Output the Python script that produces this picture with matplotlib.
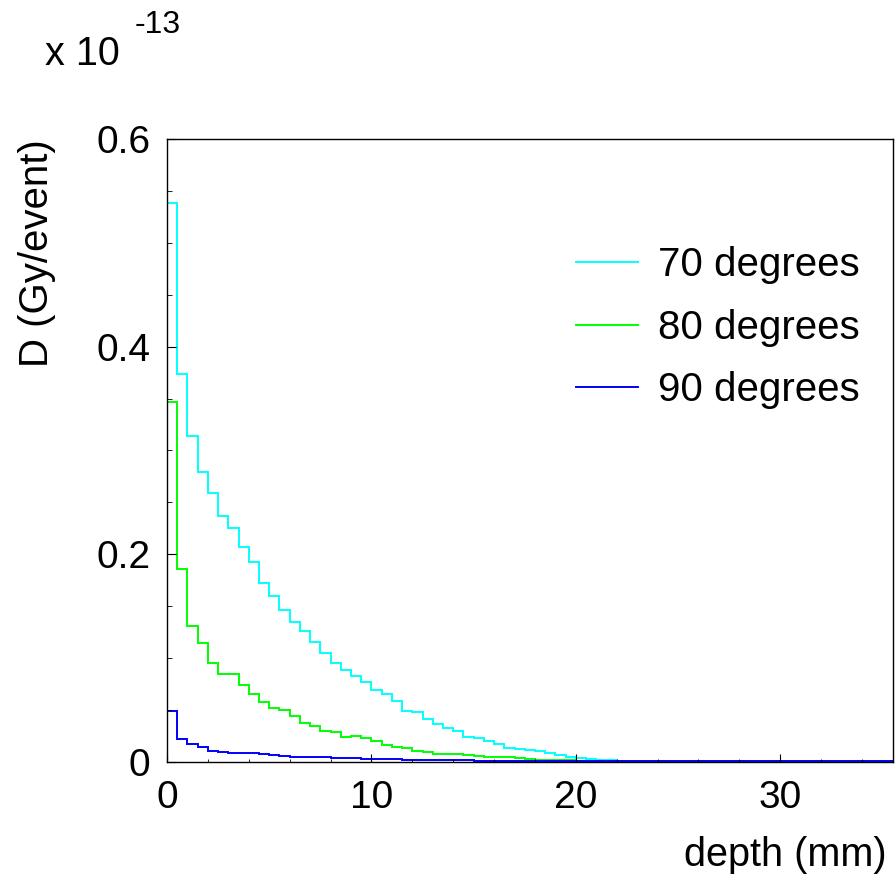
import numpy as np
import matplotlib
matplotlib.use("Agg")
import matplotlib.pyplot as plt

plt.rcParams['font.family'] = ['Liberation Sans', 'DejaVu Sans']

# depth bins (mm), 0.5 mm wide
bin_edges = np.arange(0, 35.51, 0.5)

# dose per event, in units of 1e-13 Gy
dose_70 = [0.539, 0.374, 0.314, 0.279, 0.259, 0.237, 0.225, 0.207, 0.192, 0.172,
           0.160, 0.146, 0.135, 0.126, 0.115, 0.105, 0.095, 0.088, 0.082, 0.077,
           0.069, 0.065, 0.058, 0.049, 0.048, 0.041, 0.036, 0.0325, 0.0296, 0.0238,
           0.0222, 0.0196, 0.0171, 0.0135, 0.0119, 0.0109, 0.0102, 0.0083, 0.0062, 0.0045,
           0.0032, 0.0022, 0.0015, 0.0011, 0.0008, 0.0007, 0.0006, 0.0005, 0.0005, 0.0004,
           0.0004, 0.0003, 0.0003, 0.0003, 0.0002, 0.0002, 0.0002, 0.0002, 0.0002, 0.0002,
           0.0001, 0.0001, 0.0001, 0.0001, 0.0001, 0.0001, 0.0001, 0.0001, 0.0001, 0.0001,
           0.0001]
dose_80 = [0.347, 0.186, 0.131, 0.114, 0.095, 0.084, 0.084, 0.074, 0.065, 0.057,
           0.052, 0.050, 0.044, 0.037, 0.034, 0.029, 0.028, 0.024, 0.025, 0.023,
           0.0196, 0.0155, 0.0140, 0.0126, 0.0103, 0.0094, 0.0077, 0.0071, 0.0068, 0.0061,
           0.0051, 0.0048, 0.0042, 0.0039, 0.0030, 0.0023, 0.0019, 0.0016, 0.0013, 0.0011,
           0.0009, 0.0008, 0.0007, 0.0006, 0.0005, 0.0004, 0.0004, 0.0003, 0.0003, 0.0003,
           0.0002, 0.0002, 0.0002, 0.0002, 0.0002, 0.0002, 0.0002, 0.0002, 0.0002, 0.0002,
           0.0001, 0.0001, 0.0001, 0.0001, 0.0001, 0.0001, 0.0001, 0.0001, 0.0001, 0.0001,
           0.0001]
dose_90 = [0.049, 0.0221, 0.0169, 0.0137, 0.0104, 0.0094, 0.0085, 0.0079, 0.0079, 0.0072,
           0.0060, 0.0055, 0.0046, 0.0042, 0.0045, 0.0040, 0.0036, 0.0033, 0.0030, 0.0028,
           0.0025, 0.0023, 0.0020, 0.0018, 0.0016, 0.0014, 0.0013, 0.0012, 0.0011, 0.0010,
           0.0009, 0.0008, 0.0007, 0.0006, 0.0006, 0.0005, 0.0005, 0.0004, 0.0004, 0.0004,
           0.0003, 0.0003, 0.0003, 0.0003, 0.0003, 0.0003, 0.0003, 0.0003, 0.0003, 0.0003,
           0.0002, 0.0002, 0.0002, 0.0002, 0.0002, 0.0002, 0.0002, 0.0002, 0.0002, 0.0002,
           0.0001, 0.0001, 0.0001, 0.0001, 0.0001, 0.0001, 0.0001, 0.0001, 0.0001, 0.0001,
           0.0001]

labels = ["70 degrees", "80 degrees", "90 degrees"]
colors = ["#00ffff", "#00ff00", "#0000ff"]

fig = plt.figure(figsize=(8.96, 8.74), dpi=100)
ax = fig.add_axes([0.1864, 0.1287, 0.8099, 0.7119])

handles = []
for vals, lab, col in zip([dose_70, dose_80, dose_90], labels, colors):
    h = ax.stairs(vals, bin_edges, baseline=0, color=col, lw=1.4, label=lab)
    handles.append(h)

ax.set_xlim(0, 35.5)
ax.set_ylim(0, 0.6)
ax.set_xticks([0, 10, 20, 30])
ax.set_xticks(np.arange(0, 35.5, 2), minor=True)
ax.set_yticks([0, 0.2, 0.4, 0.6])
ax.set_yticklabels(["0", "0.2", "0.4", "0.6"])
ax.set_yticks(np.arange(0, 0.61, 0.05), minor=True)
ax.tick_params(which="both", direction="in", labelsize=28)
ax.tick_params(axis="x", which="major", length=6, pad=13)
ax.tick_params(axis="x", which="minor", length=2.5)
ax.tick_params(axis="y", which="major", length=6.5, pad=12)
ax.tick_params(axis="y", which="minor", length=3.6)
for sp in ax.spines.values():
    sp.set_linewidth(1.0)

ax.legend(handles=handles, loc="upper left", bbox_to_anchor=(0.5636, 0.828),
          frameon=False, fontsize=29, borderpad=0, borderaxespad=0,
          handlelength=1.53, handletextpad=0.5, labelspacing=0.61)

fig.text(887 / 896, 1 - 866 / 874, "depth (mm)", ha="right", va="baseline", fontsize=28.5)
fig.text(37 / 896, 1 - 253 / 874, "D (Gy/event)", ha="center", va="center",
         rotation=90, fontsize=29)
fig.text(45 / 896, 1 - 65 / 874, "x 10", ha="left", va="baseline", fontsize=28.5)
fig.text(135 / 896, 1 - 33 / 874, "-13", ha="left", va="baseline", fontsize=23)

fig.savefig("out.png", dpi=100)
